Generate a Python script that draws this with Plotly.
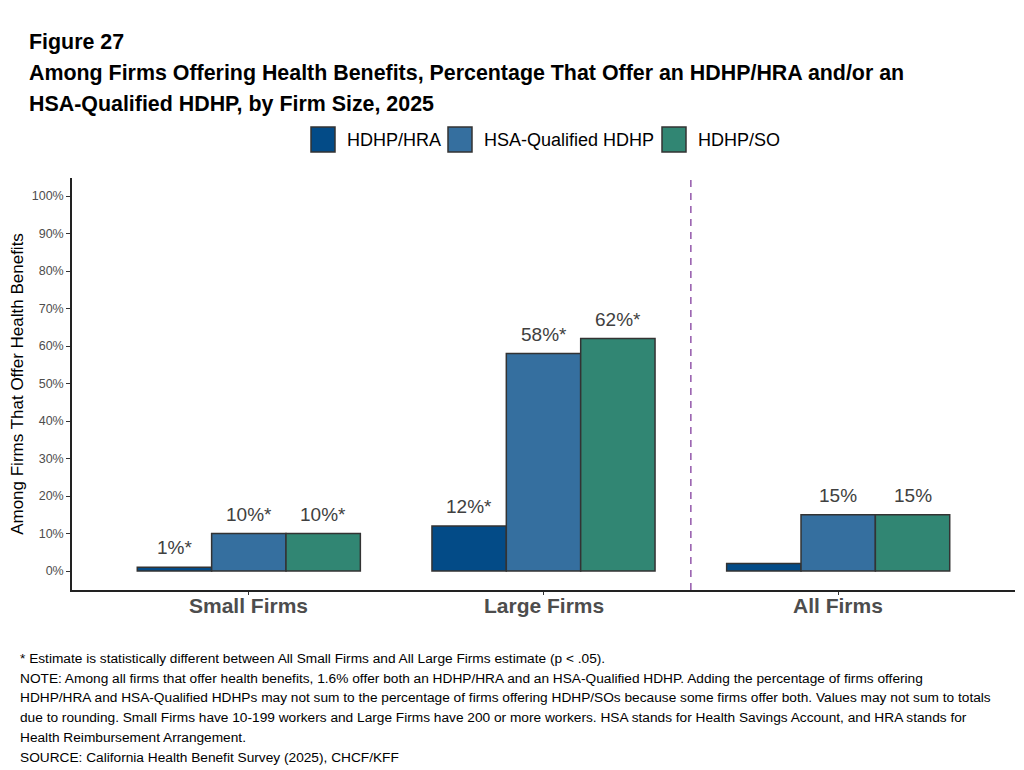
import plotly.graph_objects as go

# Categories and series values (percent)
firm_sizes = ["Small Firms", "Large Firms", "All Firms"]
series_names = ["HDHP/HRA", "HSA-Qualified HDHP", "HDHP/SO"]
hdhp_hra = [1, 12, 2]
hsa_hdhp = [10, 58, 15]
hdhp_so = [10, 62, 15]

# Bar labels (the All Firms HDHP/HRA bar has no label in the original)
hdhp_hra_labels = ["1%*", "12%*", ""]
hsa_hdhp_labels = ["10%*", "58%*", "15%"]
hdhp_so_labels = ["10%*", "62%*", "15%"]

y_ticks = [0, 10, 20, 30, 40, 50, 60, 70, 80, 90, 100]
y_tick_text = [str(v) + "%" for v in y_ticks]

title_lines = [
  "Figure 27",
  "Among Firms Offering Health Benefits, Percentage That Offer an HDHP/HRA and/or an",
  "HSA-Qualified HDHP, by Firm Size, 2025",
]
note_lines = [
  "* Estimate is statistically different between All Small Firms and All Large Firms estimate (p < .05).",
  "NOTE: Among all firms that offer health benefits, 1.6% offer both an HDHP/HRA and an HSA-Qualified HDHP. Adding the percentage of firms offering",
  "HDHP/HRA and HSA-Qualified HDHPs may not sum to the percentage of firms offering HDHP/SOs because some firms offer both. Values may not sum to totals",
  "due to rounding. Small Firms have 10-199 workers and Large Firms have 200 or more workers. HSA stands for Health Savings Account, and HRA stands for",
  "Health Reimbursement Arrangement.",
  "SOURCE: California Health Benefit Survey (2025), CHCF/KFF",
]

colors = ["#034B87", "#356F9F", "#318673"]
font = "Liberation Sans, Arial, sans-serif"

# plot area in figure pixels (page adds 8px body margin)
W, H = 1024, 770
ML, MR, MT, MB = 64, 17, 170, 188
plot_h = H - MT - MB
plot_w = W - ML - MR

def py(pix):
  # figure pixel row -> paper y
  return (H - MB - pix) / plot_h

def px(pix):
  return (pix - ML) / plot_w

bargap = 0.243
bar_w = (1 - bargap) / 3

fig = go.Figure()
all_values = [hdhp_hra, hsa_hdhp, hdhp_so]
all_labels = [hdhp_hra_labels, hsa_hdhp_labels, hdhp_so_labels]
for k, (name, vals, labs, col) in enumerate(zip(series_names, all_values, all_labels, colors)):
  fig.add_trace(go.Bar(
    x=firm_sizes, y=vals, name=name,
    marker=dict(color=col, line=dict(color="#333333", width=1.5)),
    hoverinfo="skip", showlegend=False
  ))
  for i, (v, lab) in enumerate(zip(vals, labs)):
    if lab:
      fig.add_annotation(x=i + (k - 1) * bar_w, y=v, xref="x", yref="y", text=lab,
                         showarrow=False, yanchor="bottom", yshift=7,
                         font=dict(family=font, size=19, color="#404040"))

# x category labels
for i, cat in enumerate(firm_sizes):
  fig.add_annotation(x=i, y=py(597), xref="x", yref="paper", text="<b>" + cat + "</b>",
                     showarrow=False, yanchor="middle",
                     font=dict(family=font, size=21, color="#4D4D4D"))

# legend drawn by hand so the swatches match the large boxes of the original
legend_box_x = [303, 440, 654]
for name, col, bx in zip(series_names, colors, legend_box_x):
  fig.add_shape(type="rect", xref="paper", yref="paper",
                x0=px(bx), x1=px(bx + 24), y0=py(119), y1=py(144),
                fillcolor=col, line=dict(color="#333333", width=1.5))
  fig.add_annotation(text=name, xref="paper", yref="paper", x=px(bx + 34), y=py(132),
                     xanchor="left", yanchor="middle", showarrow=False,
                     font=dict(family=font, size=18, color="#000000"))

# dashed divider between Large Firms and All Firms
fig.add_shape(type="line", xref="x", yref="paper", x0=1.5, x1=1.5, y0=0, y1=1,
              line=dict(color="#9A62B0", width=1.6, dash="7px,6px"))

title_rows = [34, 65, 96]
for line, row in zip(title_lines, title_rows):
  fig.add_annotation(text="<b>" + line + "</b>", xref="paper", yref="paper",
                     x=px(19), y=py(row), xanchor="left", yanchor="middle",
                     showarrow=False, font=dict(family=font, size=21.4, color="#000000"))

note_rows = [650, 670, 689, 709, 729, 749]
for line, row in zip(note_lines, note_rows):
  fig.add_annotation(text=line, xref="paper", yref="paper",
                     x=px(10), y=py(row), xanchor="left", yanchor="middle",
                     showarrow=False, font=dict(family=font, size=13.7, color="#000000"))

fig.update_layout(
  width=W, height=H,
  margin=dict(l=ML, r=MR, t=MT, b=MB, autoexpand=False),
  paper_bgcolor="white", plot_bgcolor="white",
  barmode="group", bargap=bargap, bargroupgap=0,
  font=dict(family=font),
  showlegend=False,
)
fig.update_xaxes(range=[-0.6, 2.6], showline=True, linecolor="#222222", linewidth=1.5,
                 ticks="outside", ticklen=3, tickcolor="#333333",
                 showticklabels=False, automargin=False)
fig.update_yaxes(range=[-5.05, 104.8], showline=True, linecolor="#222222", linewidth=1.5,
                 showgrid=False, zeroline=False, tickvals=y_ticks, ticktext=y_tick_text,
                 ticks="outside", ticklen=4, tickcolor="#333333", automargin=False,
                 tickfont=dict(family=font, size=12.5, color="#4D4D4D"),
                 title=dict(text="Among Firms That Offer Health Benefits", standoff=12,
                            font=dict(family=font, size=17, color="#000000")))

fig.write_html("out.html")
